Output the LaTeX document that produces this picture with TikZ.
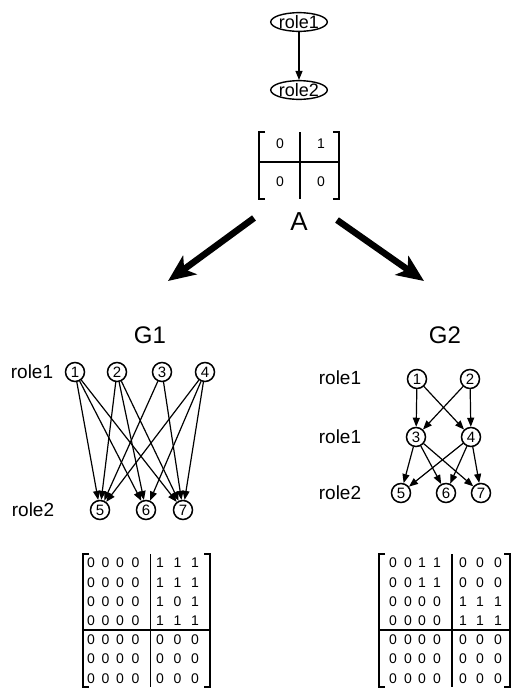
\documentclass[tikz,border=0pt]{standalone}
\usepackage{fontspec}
\setmainfont{Liberation Sans}
\usetikzlibrary{arrows.meta,shapes.geometric}
\begin{document}
\begin{tikzpicture}[x=1pt,y=-1pt,
  vtx/.style={circle,draw,line width=1.5pt,minimum size=19pt,inner sep=0pt,font=\fontsize{15}{15}\selectfont},
  rolebox/.style={ellipse,draw,line width=1.4pt,inner sep=0pt,font=\fontsize{18}{18}\selectfont},
  lbl/.style={font=\fontsize{19}{19}\selectfont,inner sep=0pt},
  big/.style={font=\fontsize{26}{26}\selectfont,inner sep=0pt},
  ent/.style={font=\fontsize{14}{14}\selectfont,inner sep=0pt},
  aent/.style={font=\fontsize{14}{14}\selectfont,inner sep=0pt},
  edge/.style={-{Triangle[length=9pt,width=7pt]},line width=1.2pt},
  fat/.style={-{Stealth[length=27pt,width=23pt,inset=7pt]},line width=6.5pt},
  brk/.style={line width=1.8pt},
]
\useasboundingbox (0,0) rectangle (512,689);

% top
\node[rolebox] (t1) at (299,22) {role1};
\node[rolebox] (t2) at (299,90) {role2};
\draw[edge] (t1) -- (t2);

% matrix A
\draw[brk] (265,132) -- (259,132) -- (259,199) -- (265,199);
\draw[brk] (333,132) -- (339,132) -- (339,199) -- (333,199);
\draw[brk] (300,132) -- (300,199);
\draw[brk] (259,162) -- (339,162);
\node[aent] (a11) at (280,144) {0};
\node[aent] (a12) at (321,144) {1};
\node[aent] (a21) at (280,182) {0};
\node[aent] (a22) at (321,182) {0};
\node[big] (A) at (299,222) {A};

\coordinate (lt) at (254,218);
\coordinate (lh) at (168,281);
\coordinate (rt) at (337,220);
\coordinate (rh) at (424,281);
\draw[fat] (lt) -- (lh);
\draw[fat] (rt) -- (rh);

% G1
\node[big,font=\fontsize{24}{24}\selectfont] (G1) at (150,335) {G1};
\node[lbl] (g1r1) at (32,372) {role1};
\node[lbl] (g1r2) at (33,510) {role2};
\node[vtx] (a1) at (75,372) {1};
\node[vtx] (a2) at (117,372) {2};
\node[vtx] (a3) at (162,372) {3};
\node[vtx] (a4) at (205,372) {4};
\node[vtx] (a5) at (100,510) {5};
\node[vtx] (a6) at (146,510) {6};
\node[vtx] (a7) at (183,510) {7};
\foreach \s/\t in {a1/a5,a1/a6,a1/a7,a2/a5,a2/a6,a2/a7,a3/a5,a3/a7,a4/a5,a4/a6,a4/a7}
  \draw[edge] (\s) -- (\t);

% G2
\node[big,font=\fontsize{24}{24}\selectfont] (G2) at (445,335) {G2};
\node[lbl] (g2r1) at (340,378) {role1};
\node[lbl] (g2r1b) at (340,437) {role1};
\node[lbl] (g2r2) at (340,493) {role2};
\node[vtx] (b1) at (417,379) {1};
\node[vtx] (b2) at (470,379) {2};
\node[vtx] (b3) at (416,437) {3};
\node[vtx] (b4) at (471,437) {4};
\node[vtx] (b5) at (401,493) {5};
\node[vtx] (b6) at (446,493) {6};
\node[vtx] (b7) at (481,493) {7};
\foreach \s/\t in {b1/b3,b1/b4,b2/b3,b2/b4,b3/b5,b3/b6,b3/b7,b4/b5,b4/b6,b4/b7}
  \draw[edge] (\s) -- (\t);

% G1 matrix
\def\gax{{91,105.5,120,135.5,160,177.5,195}}
\draw[brk] (89,554) -- (83,554) -- (83,687) -- (89,687);
\draw[brk] (204,554) -- (210,554) -- (210,687) -- (204,687);
\draw[brk] (150.5,554) -- (150.5,687);
\draw[brk] (83,630) -- (210,630);
\foreach \row [count=\r] in {{0,0,0,0,1,1,1},{0,0,0,0,1,1,1},{0,0,0,0,1,0,1},{0,0,0,0,1,1,1},{0,0,0,0,0,0,0},{0,0,0,0,0,0,0},{0,0,0,0,0,0,0}}{
  \foreach \v [count=\c] in \row {
    \pgfmathsetmacro\xx{\gax[\c-1]}
    \pgfmathsetmacro\yy{563+(\r-1)*19.2}
    \node[ent] (m1-\r-\c) at (\xx,\yy) {\v};
  }
}

% G2 matrix
\def\gbx{{393,408,422,437,463,480,498}}
\draw[brk] (385,554) -- (379,554) -- (379,687) -- (385,687);
\draw[brk] (504,554) -- (510,554) -- (510,687) -- (504,687);
\draw[brk] (452,554) -- (452,687);
\draw[brk] (379,630) -- (510,630);
\foreach \row [count=\r] in {{0,0,1,1,0,0,0},{0,0,1,1,0,0,0},{0,0,0,0,1,1,1},{0,0,0,0,1,1,1},{0,0,0,0,0,0,0},{0,0,0,0,0,0,0},{0,0,0,0,0,0,0}}{
  \foreach \v [count=\c] in \row {
    \pgfmathsetmacro\xx{\gbx[\c-1]}
    \pgfmathsetmacro\yy{563+(\r-1)*19.2}
    \node[ent] (m2-\r-\c) at (\xx,\yy) {\v};
  }
}
\end{tikzpicture}
\end{document}
